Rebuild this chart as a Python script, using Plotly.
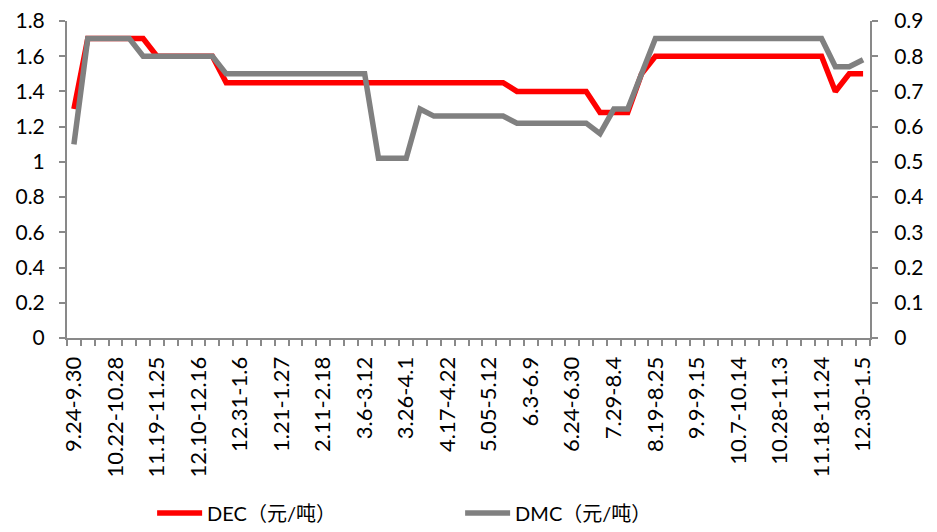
import plotly.graph_objects as go

weeks = [
    "9.24-9.30", "10.8-10.14", "10.15-10.21", "10.22-10.28", "10.29-11.4", "11.5-11.11",
    "11.19-11.25", "11.26-12.2", "12.3-12.9", "12.10-12.16", "12.17-12.23", "12.24-12.30",
    "12.31-1.6", "1.7-1.13", "1.14-1.20", "1.21-1.27", "1.28-2.3", "2.4-2.10",
    "2.11-2.18", "2.19-2.25", "2.26-3.5", "3.6-3.12", "3.13-3.19", "3.20-3.25",
    "3.26-4.1", "4.2-4.8", "4.9-4.16", "4.17-4.22", "4.23-4.28", "4.29-5.4",
    "5.05-5.12", "5.13-5.19", "5.20-5.26", "6.3-6.9", "6.10-6.16", "6.17-6.23",
    "6.24-6.30", "7.1-7.7", "7.15-7.21", "7.29-8.4", "8.5-8.11", "8.12-8.18",
    "8.19-8.25", "8.26-9.1", "9.2-9.8", "9.9-9.15", "9.16-9.22", "9.23-9.29",
    "10.7-10.14", "10.15-10.20", "10.21-10.27", "10.28-11.3", "11.4-11.10", "11.11-11.17",
    "11.18-11.24", "11.25-12.1", "12.16-12.22", "12.30-1.5",
]

dec = [
    1.3, 1.7, 1.7, 1.7, 1.7, 1.7,
    1.6, 1.6, 1.6, 1.6, 1.6, 1.45,
    1.45, 1.45, 1.45, 1.45, 1.45, 1.45,
    1.45, 1.45, 1.45, 1.45, 1.45, 1.45,
    1.45, 1.45, 1.45, 1.45, 1.45, 1.45,
    1.45, 1.45, 1.4, 1.4, 1.4, 1.4,
    1.4, 1.4, 1.28, 1.28, 1.28, 1.5,
    1.6, 1.6, 1.6, 1.6, 1.6, 1.6,
    1.6, 1.6, 1.6, 1.6, 1.6, 1.6,
    1.6, 1.4, 1.5, 1.5,
]

dmc = [
    0.55, 0.85, 0.85, 0.85, 0.85, 0.8,
    0.8, 0.8, 0.8, 0.8, 0.8, 0.75,
    0.75, 0.75, 0.75, 0.75, 0.75, 0.75,
    0.75, 0.75, 0.75, 0.75, 0.51, 0.51,
    0.51, 0.65, 0.63, 0.63, 0.63, 0.63,
    0.63, 0.63, 0.61, 0.61, 0.61, 0.61,
    0.61, 0.61, 0.58, 0.65, 0.65, 0.75,
    0.85, 0.85, 0.85, 0.85, 0.85, 0.85,
    0.85, 0.85, 0.85, 0.85, 0.85, 0.85,
    0.85, 0.77, 0.77, 0.79,
]

left_ticks = [0, 0.2, 0.4, 0.6, 0.8, 1.0, 1.2, 1.4, 1.6, 1.8]
right_ticks = [0, 0.1, 0.2, 0.3, 0.4, 0.5, 0.6, 0.7, 0.8, 0.9]

x = list(range(len(weeks)))
label_idx = x[::3]

FONT = "Lato, 'Noto Sans CJK SC', sans-serif"
AXIS = "#898989"

fig = go.Figure()
fig.add_trace(go.Scatter(x=x, y=dec, name="DEC（元/吨）", mode="lines",
                         line=dict(color="#FF0000", width=5.5),
                         text=weeks, hovertemplate="%{text}: %{y}<extra></extra>"))
fig.add_trace(go.Scatter(x=x, y=dmc, name="DMC（元/吨）", mode="lines", yaxis="y2",
                         line=dict(color="#808080", width=5.5),
                         text=weeks, hovertemplate="%{text}: %{y}<extra></extra>"))

# page has an 8px body margin; figure sized to fit the 937x532 window
fig.update_layout(
    width=921, height=516,
    margin=dict(l=59, r=59, t=13, b=186, autoexpand=False),
    paper_bgcolor="white", plot_bgcolor="white",
    font=dict(family=FONT, color="#000000"),
    showlegend=True,
    legend=dict(orientation="h", x=0.106, xanchor="left", y=-0.552, yanchor="middle",
                font=dict(size=20, family=FONT), entrywidth=248, entrywidthmode="pixels",
                itemwidth=45),
    xaxis=dict(range=[-0.5, len(weeks) - 0.5], tickmode="array", automargin=False,
               tickvals=label_idx, ticktext=[weeks[i] for i in label_idx],
               tickangle=-90, ticks="", showgrid=False, zeroline=False,
               showline=True, linecolor=AXIS, linewidth=2, ticklabelstandoff=8,
               tickfont=dict(size=22, family=FONT),
               minor=dict(tick0=-0.5, dtick=1, ticks="outside", ticklen=6,
                          tickcolor=AXIS, tickwidth=1.5, showgrid=False)),
    yaxis=dict(range=[0, 1.8], tickmode="array", tickvals=left_ticks, automargin=False,
               ticks="outside", ticklen=6, tickcolor=AXIS, tickwidth=1.5,
               ticklabeloverflow="allow", ticklabelstandoff=10,
               showline=True, linecolor=AXIS, linewidth=2, showgrid=False,
               zeroline=False, tickfont=dict(size=21, family=FONT)),
    yaxis2=dict(range=[0, 0.9], tickmode="array", tickvals=right_ticks, automargin=False,
                overlaying="y", side="right",
                ticks="outside", ticklen=6, tickcolor=AXIS, tickwidth=1.5,
                ticklabeloverflow="allow", ticklabelstandoff=12,
                showline=True, linecolor=AXIS, linewidth=2, showgrid=False,
                zeroline=False, tickfont=dict(size=21, family=FONT)),
)

fig.write_html("out.html")
